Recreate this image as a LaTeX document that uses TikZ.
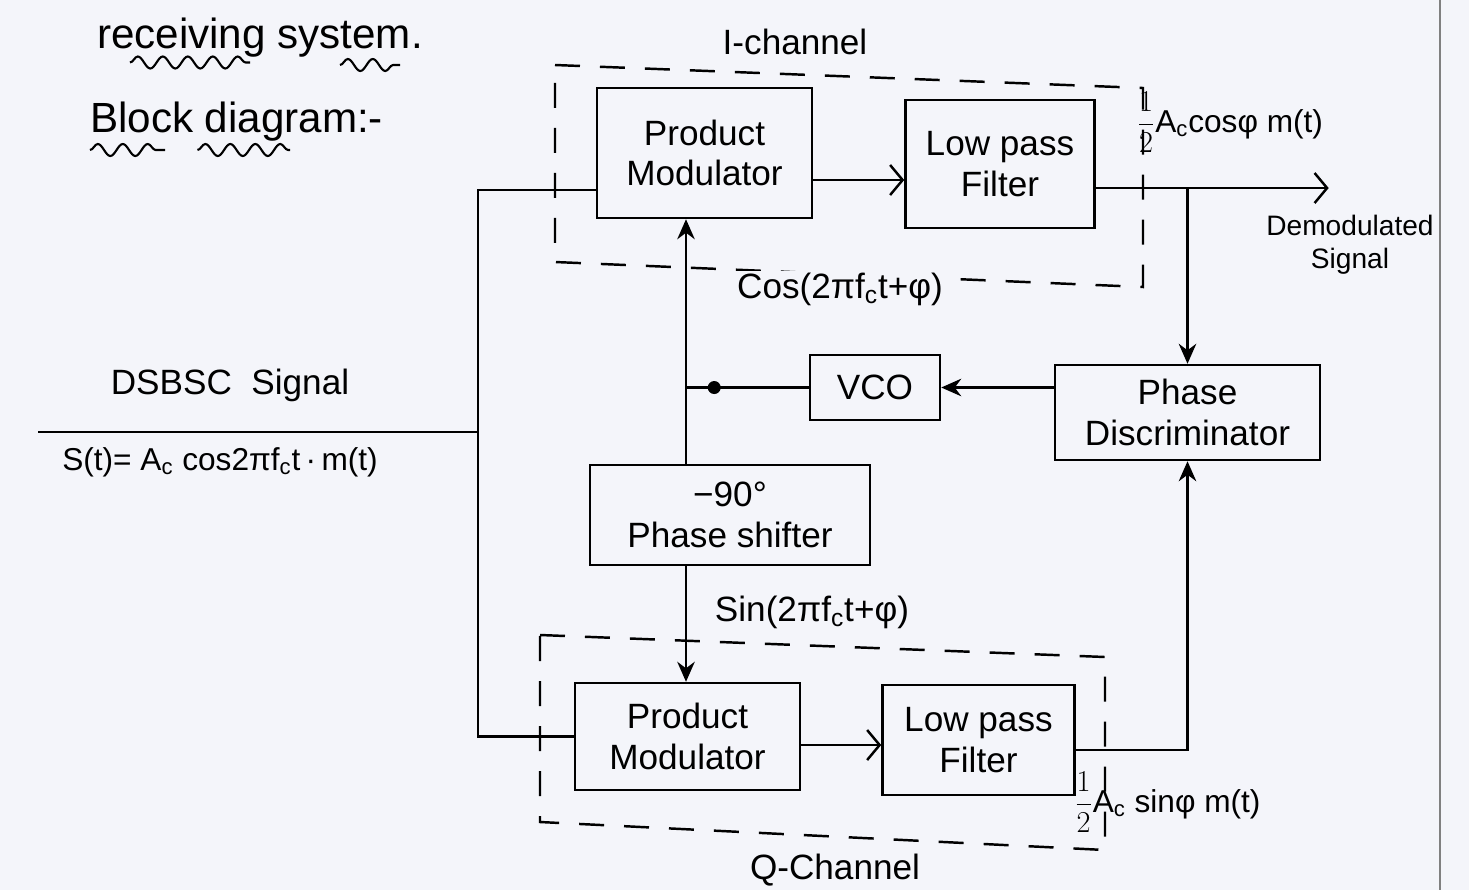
\documentclass[tikz,border=0pt]{standalone}
\usepackage{fontspec}
\setmainfont{Liberation Sans}
\usepackage{xcolor}
\usepackage{tikz}
\usetikzlibrary{positioning, arrows.meta, calc, decorations.pathmorphing}

\definecolor{paper}{RGB}{244,245,250}

\begin{document}
\begin{tikzpicture}[
        font=\fontsize{20}{23}\selectfont,
        box/.style={draw, rectangle, line width=1.4pt, align=center, inner sep=2pt},
        farr/.style={-{Stealth[length=4mm, width=3.5mm]}, line width=1.4pt},
        oarr/.style={-{Straight Barb[length=2.5mm, width=6mm]}, line width=1.4pt},
        wire/.style={line width=1.4pt},
        chan/.style={line width=1.4pt, dash pattern=on 5mm off 4mm},
        lbl/.style={inner sep=1pt, align=center},
        big/.style={font=\fontsize{24}{28}\selectfont},
        eqn/.style={inner sep=1pt, font=\fontsize{18}{21}\selectfont},
        wavy/.style={line width=1.2pt, decorate, decoration={snake, segment length=5mm, amplitude=1.2mm}}
    ]
    \fill[paper] (0,0) rectangle (29.38,-17.8);
    \useasboundingbox (0,0) rectangle (29.38,-17.8);

    % headings
    \node[lbl, big, anchor=west] (title) at (1.9,-0.76) {receiving system.};
    \node[lbl, big, anchor=west] (block) at (1.76,-2.44) {Block diagram:-};
    \draw[wavy] (2.6,-1.25) -- (5.0,-1.25);
    \draw[wavy] (6.8,-1.3) -- (8.0,-1.3);
    \draw[wavy] (1.8,-3.0) -- (3.3,-3.0);
    \draw[wavy] (3.95,-3.0) -- (5.8,-3.0);

    % page edge
    \draw[gray, line width=1.5pt] (28.8,0) -- (28.8,-17.8);

    % channel frames
    \draw[chan] (11.1,-1.3) -- (22.86,-1.76) -- (22.86,-5.74) -- (11.1,-5.24) -- cycle;
    \draw[chan] (10.8,-12.7) -- (22.1,-13.14) -- (22.1,-17.0) -- (10.8,-16.44) -- cycle;
    \node[lbl] (ich) at (15.9,-0.84) {I-channel};
    \node[lbl] (qch) at (16.7,-17.4) {Q-Channel};

    % I-channel
    \node[box, minimum width=4.3cm, minimum height=2.6cm] (pmI) at (14.09,-3.06) {Product\\Modulator};
    \node[box, minimum width=3.78cm, minimum height=2.56cm, right=1.82cm of pmI, yshift=-2.2mm] (lpfI) {Low pass\\Filter};

    % loop
    \node[box, minimum width=2.6cm, minimum height=1.3cm] (vco) at (17.5,-7.75) {VCO};
    \node[box, minimum width=5.3cm, minimum height=1.9cm] (pd) at (23.75,-8.25) {Phase\\Discriminator};
    \node[box, minimum width=5.6cm, minimum height=2.0cm] (ps) at (14.6,-10.3) {−90°\\Phase shifter};

    % Q-channel
    \node[box, minimum width=4.5cm, minimum height=2.14cm] (pmQ) at (13.75,-14.73) {Product\\Modulator};
    \node[box, minimum width=3.84cm, minimum height=2.2cm, right=1.6cm of pmQ, yshift=-0.7mm] (lpfQ) {Low pass\\Filter};

    % input
    \coordinate (in) at (0.76,-8.64);
    \coordinate (split) at (9.56,-8.64);
    \coordinate (pmIin) at ([yshift=-7.4mm]pmI.west);
    \draw[wire] (in) -- (split);
    \draw[wire] (pmIin) -| (split) |- (pmQ.west);
    \node[lbl] (sig) at (4.6,-7.7) {DSBSC~~Signal};
    \node[eqn] (sigeq) at (4.4,-9.24) {S(t)= A\textsubscript{c} cos2πf\textsubscript{c}t\,·\,m(t)};

    % I path
    \coordinate (pmIout) at ([yshift=-5.4mm]pmI.east);
    \draw[oarr] (pmIout) -- (pmIout -| lpfI.west);
    \coordinate (lpfIout) at ([yshift=-4.8mm]lpfI.east);
    \coordinate (dem) at ([xshift=4.66cm]lpfIout);
    \draw[oarr] (lpfIout) -- (dem);
    \node[lbl, font=\fontsize{16}{19}\selectfont] (demlbl) at (27.0,-4.9) {Demodulated\\Signal};
    \node[eqn, anchor=west] (iout) at (22.7,-2.45) {$\displaystyle\frac{1}{2}$A\textsubscript{c}cosφ m(t)};
    \draw[farr] (pd.north |- lpfIout) -- (pd.north);

    % VCO and phase shifter
    \coordinate (j) at (13.72,-7.75);
    \draw[farr] (pd.west |- vco.east) -- (vco.east);
    \draw[wire] (vco.west) -- (j);
    \fill ($(j)!0.23!(vco.west)$) circle (1.3mm);
    \draw[farr] (ps.north -| j) -- (j |- pmI.south);
    \draw[farr] (ps.south -| j) -- (j |- pmQ.north);
    \node[lbl, fill=paper] (cosl) at (16.8,-5.78) {Cos(2πf\textsubscript{c}t+φ)};
    \node[lbl] (sinl) at (16.24,-12.24) {Sin(2πf\textsubscript{c}t+φ)};

    % Q path
    \coordinate (pmQout) at ([yshift=-1.7mm]pmQ.east);
    \draw[oarr] (pmQout) -- (pmQout -| lpfQ.west);
    \coordinate (lpfQout) at ([yshift=-2mm]lpfQ.east);
    \draw[farr] (lpfQout) -| (pd.south);
    \node[eqn, anchor=west] (qout) at (21.45,-16.05) {$\displaystyle\frac{1}{2}$A\textsubscript{c} sinφ m(t)};

\end{tikzpicture}
\end{document}
